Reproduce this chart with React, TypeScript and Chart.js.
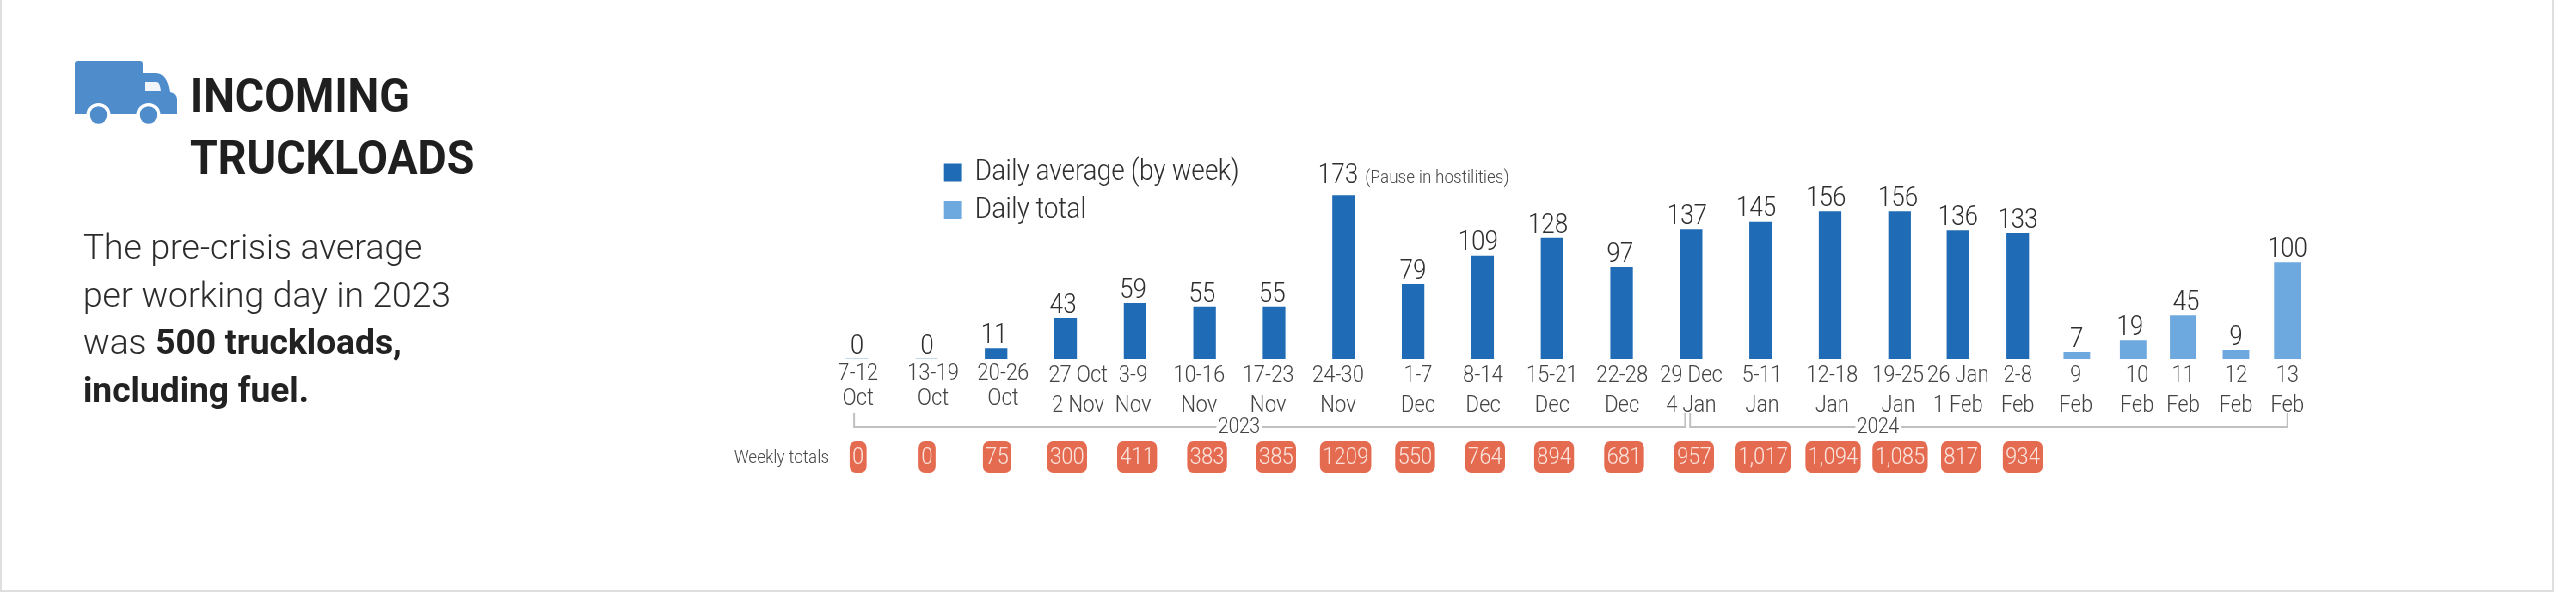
import React, { useEffect, useRef } from "react";
import { Chart, registerables } from "chart.js";

Chart.register(...registerables);

// ---- values ----
const tickLabels: string[][] = [
  ["7-12", "Oct"], ["13-19", "Oct"], ["20-26", "Oct"], ["27 Oct", "2 Nov"], ["3-9", "Nov"], ["10-16", "Nov"],
  ["17-23", "Nov"], ["24-30", "Nov"], ["1-7", "Dec"], ["8-14", "Dec"], ["15-21", "Dec"], ["22-28", "Dec"],
  ["29 Dec", "4 Jan"], ["5-11", "Jan"], ["12-18", "Jan"], ["19-25", "Jan"], ["26 Jan", "1 Feb"], ["2-8", "Feb"],
  ["9", "Feb"], ["10", "Feb"], ["11", "Feb"], ["12", "Feb"], ["13", "Feb"],
];
const weeklyAverages = [0, 0, 11, 43, 59, 55, 55, 173, 79, 109, 128, 97, 137, 145, 156, 156, 136, 133];
const dailyTotals = [7, 19, 45, 9, 100];
const weeklyTotals = ["0", "0", "75", "300", "411", "383", "385", "1209", "550", "764", "894", "681", "957", "1,017", "1,094", "1,085", "817", "934"];

// ---- layout (screen pixels unless noted) ----
const SQUEEZE = 0.86; // the whole canvas is drawn wide and narrowed, which gives the condensed lettering
const S = 1 / SQUEEZE;
const W = 2561;
const H = 600;
const BASELINE = 359;
const SLOT_PX = 69.5;
const FIRST_SLOT_PX = 857;
const AREA_RIGHT = 2400;
const PX_PER_WEEKLY_VALUE = 0.945;
const PX_PER_DAILY_VALUE = 0.965;
const slotStops = [0, 1, 2, 3, 4, 5, 6, 7, 8, 9, 10, 11, 12, 13, 14, 15, 15.84, 16.7, 17.55, 18.36, 19.08, 19.84, 20.58];
const tickNudge = [1, 6.5, 7, 12.5, -2, -5.5, -6, -5.5, 5, 0.5, 0, 0.5, 0, 1.5, 2, -1.5, 0, 0, -1, 4, 0, 0, 0];
const valueNudge = [0, 0.5, -2, -2.5, -2, -2.5, -2, -5.5, 0, -4.5, -4, -1.5, -4, -4.5, -4, -1.5, 0, 0, 0, -3, 3, 0, 0];
const pillNudge = [1, 0.5, 1, 1.5, 2, 2.5, 2, 2, 2, 2.5, 2, 2.5, 3, 2.5, 3, 0.5, 3, 5];

const FONT = "Roboto";
const INK = "#2f2f2f";
const WEEK_BLUE = "#1f6bb5";
const DAY_BLUE = "#6da9de";
const PILL = "#e46a50";
const LINE = "#c0c0c0";
const LEGEND_PAD = 7.5;

const overlay = {
  id: "overlay",
  afterLayout(chart: any) {
    const lg = chart.legend;
    lg.left = 944 * S - LEGEND_PAD;
    lg.right = lg.left + 500;
    lg.top = 150;
    lg.bottom = lg.top + 100;
  },
  afterDraw(chart: any) {
    const { ctx } = chart;
    const x = chart.scales.x;
    const px = (slot: number) => x.getPixelForValue(slot);
    ctx.save();

    // value labels above the bars
    ctx.textAlign = "center";
    ctx.textBaseline = "alphabetic";
    ctx.fillStyle = INK;
    ctx.font = `300 28px ${FONT}`;
    let n = 0;
    chart.data.datasets.forEach((ds: any, d: number) => {
      chart.getDatasetMeta(d).data.forEach((bar: any, i: number) => {
        const extra = ds.data[i].y === 173 ? 7 : 0;
        ctx.fillText(String(ds.data[i].y), bar.x + valueNudge[n] * S, bar.y - 5.5 - extra);
        n += 1;
      });
    });

    // note beside the tallest bar
    const peak = chart.getDatasetMeta(0).data[7];
    ctx.font = `300 19px ${FONT}`;
    ctx.fillStyle = "#4a4a4a";
    ctx.textAlign = "left";
    ctx.textBaseline = "middle";
    ctx.fillText("(Pause in hostilities)", peak.x + 21.5 * S, peak.y - 17.5);

    // year brackets
    const year = (label: string, from: number, to: number, mid: number) => {
      ctx.strokeStyle = LINE;
      ctx.lineWidth = 2;
      ctx.beginPath();
      ctx.moveTo(from, BASELINE + 54);
      ctx.lineTo(from, BASELINE + 68);
      ctx.lineTo(to, BASELINE + 68);
      ctx.lineTo(to, BASELINE + 54);
      ctx.stroke();
      ctx.font = `300 22px ${FONT}`;
      const w = ctx.measureText(label).width + 4;
      ctx.fillStyle = "#fff";
      ctx.fillRect(mid - w / 2, BASELINE + 58, w, 20);
      ctx.fillStyle = "#444";
      ctx.textAlign = "center";
      ctx.fillText(label, mid, BASELINE + 68);
    };
    year("2023", px(slotStops[0]) - 3 * S, px(slotStops[12]) - 6 * S, px(slotStops[5]) + 34.5 * S);
    year("2024", px(slotStops[12]) - 1 * S, px(slotStops[22]), px(slotStops[15]) - 21.5 * S);

    // weekly totals row
    ctx.font = `300 19px ${FONT}`;
    ctx.fillStyle = "#4a4a4a";
    ctx.textAlign = "right";
    ctx.textBaseline = "middle";
    ctx.fillText("Weekly totals", px(slotStops[0]) - 28 * S, BASELINE + 99);

    ctx.font = `300 24px ${FONT}`;
    ctx.textAlign = "center";
    weeklyTotals.forEach((t, i) => {
      const c = px(slotStops[i]) + pillNudge[i] * S;
      const w = ctx.measureText(t).width + 5.5 * S;
      ctx.fillStyle = PILL;
      ctx.beginPath();
      ctx.roundRect(c - w / 2, BASELINE + 82, w, 32, 7);
      ctx.fill();
      ctx.fillStyle = "#fbe3dc";
      ctx.fillText(t, c, BASELINE + 98.5);
    });
    ctx.restore();
  },
};

const line1: React.CSSProperties = {
  position: "absolute",
  whiteSpace: "nowrap",
  transformOrigin: "left top",
  fontFamily: FONT,
};

export default function App() {
  const ref = useRef<HTMLCanvasElement>(null);

  useEffect(() => {
    document.body.style.margin = "0";
    document.body.style.overflow = "hidden";
    document.body.style.background = "#fff";
    const chart = new Chart(ref.current as HTMLCanvasElement, {
      type: "bar",
      data: {
        datasets: [
          {
            label: "Daily average (by week)",
            data: weeklyAverages.map((y, i) => ({ x: slotStops[i], y })),
            backgroundColor: WEEK_BLUE,
            barThickness: 22 * S,
            borderWidth: 0,
            yAxisID: "y",
          },
          {
            label: "Daily total",
            data: dailyTotals.map((y, i) => ({ x: slotStops[weeklyAverages.length + i], y })),
            backgroundColor: DAY_BLUE,
            barThickness: 26 * S,
            borderWidth: 0,
            yAxisID: "yDaily",
          },
        ],
      } as any,
      plugins: [overlay],
      options: {
        animation: false,
        responsive: false,
        devicePixelRatio: 1,
        events: [],
        layout: { padding: { left: 0, right: (W - AREA_RIGHT) * S, top: 0, bottom: 0 } },
        datasets: { bar: { grouped: false } },
        plugins: {
          tooltip: { enabled: false },
          title: { display: false },
          legend: {
            display: true,
            position: "left",
            align: "start",
            labels: {
              boxWidth: 18 * S,
              boxHeight: 18,
              padding: LEGEND_PAD,
              color: INK,
              font: { family: FONT, size: 30, weight: "300", lineHeight: 1.2 },
            },
          },
        },
        scales: {
          x: {
            type: "linear",
            offset: false,
            bounds: "data",
            grid: { display: false, drawTicks: false, offset: false },
            border: { display: false },
            afterBuildTicks: (s: any) => {
              const leftEdge = AREA_RIGHT - s.width * SQUEEZE;
              s.min = (leftEdge - FIRST_SLOT_PX) / SLOT_PX;
              s.max = (AREA_RIGHT - FIRST_SLOT_PX) / SLOT_PX;
              s.ticks = slotStops.map((v, i) => ({ value: v + tickNudge[i] / SLOT_PX }));
            },
            afterFit: (s: any) => {
              s.height = H - BASELINE;
            },
            ticks: {
              autoSkip: false,
              maxRotation: 0,
              minRotation: 0,
              padding: 2,
              color: "#444",
              font: (c: any) => ({
                family: FONT,
                size: 24,
                weight: "300",
                lineHeight: c.index < 3 ? "25px" : "30px",
              }),
              callback: (_v: any, i: number) => tickLabels[i],
            },
          },
          y: {
            type: "linear",
            display: false,
            bounds: "data",
            min: 0,
            afterBuildTicks: (s: any) => {
              s.max = s.height / PX_PER_WEEKLY_VALUE;
            },
          },
          yDaily: {
            type: "linear",
            display: false,
            bounds: "data",
            min: 0,
            afterBuildTicks: (s: any) => {
              s.max = s.height / PX_PER_DAILY_VALUE;
            },
          },
        },
      } as any,
    });
    return () => chart.destroy();
  }, []);

  return (
    <div style={{ position: "relative", width: W, height: H, overflow: "hidden", background: "#fff", filter: "blur(0.5px)" }}>
      <div style={{ position: "absolute", left: 0, top: -2, width: 2550, height: 590, border: "2px solid #dedede" }} />
      <div style={{ position: "absolute", left: 0, top: 0, width: W * S, height: H, transform: `scaleX(${SQUEEZE})`, transformOrigin: "left top" }}>
        <canvas ref={ref} width={Math.round(W * S)} height={H} style={{ display: "block" }} />
      </div>

      <svg style={{ position: "absolute", left: 0, top: 0 }} width={200} height={140} viewBox="0 0 200 140">
        <path
          d="M78 61h62a3 3 0 0 1 3 3v9h12c8 0 12 6 14 14l1 5c5 1 7 4 7 8v14H75V64a3 3 0 0 1 3-3z"
          fill="#4e8ccb"
        />
        <path d="M145 82h11c3 0 4 3 5 9h-16z" fill="#f2f6fb" />
        <circle cx={98.5} cy={115} r={12} fill="#fff" />
        <circle cx={98.5} cy={115} r={8.7} fill="#4e8ccb" />
        <circle cx={148.5} cy={115} r={12} fill="#fff" />
        <circle cx={148.5} cy={115} r={8.7} fill="#4e8ccb" />
      </svg>

      <div style={{ ...line1, left: 190, top: 65, fontSize: 48, lineHeight: "62px", fontWeight: 700, color: "#1f1f1f", transform: "scaleX(0.935)" }}>INCOMING</div>
      <div style={{ ...line1, left: 190, top: 127, fontSize: 48, lineHeight: "62px", fontWeight: 700, color: "#1f1f1f", transform: "scaleX(0.935)" }}>TRUCKLOADS</div>

      <div style={{ ...line1, left: 83, top: 224, fontSize: 35, lineHeight: "47.5px", fontWeight: 300, color: "#2b2b2b", transform: "scaleX(1.01)" }}>
        The pre-crisis average
        <br />
        per working day in 2023
        <br />
        was <b style={{ fontWeight: 700, color: "#222" }}>500 truckloads,</b>
        <br />
        <b style={{ fontWeight: 700, color: "#222" }}>including fuel.</b>
      </div>
    </div>
  );
}
